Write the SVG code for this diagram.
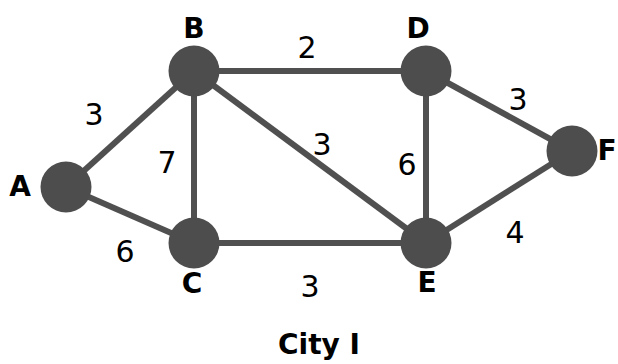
<svg xmlns="http://www.w3.org/2000/svg" width="618" height="364" viewBox="0 0 618 364">
  <style>
    .edge { stroke: #505050; stroke-width: 6; fill: none; }
    .node { fill: #4d4d4d; }
    .name { font-family: "DejaVu Sans", Verdana, sans-serif; font-weight: bold; font-size: 28px; fill: #000; text-anchor: middle; }
    .w { font-family: "DejaVu Sans", Verdana, sans-serif; font-size: 30px; fill: #000; text-anchor: middle; }
  </style>
  <rect width="618" height="364" fill="#ffffff"/>

  <!-- edges -->
  <g id="edges">
    <line class="edge" x1="66" y1="187" x2="194" y2="71"/>
    <line class="edge" x1="66" y1="187" x2="194" y2="243"/>
    <line class="edge" x1="194" y1="71" x2="194" y2="243"/>
    <line class="edge" x1="194" y1="71" x2="426" y2="71"/>
    <line class="edge" x1="194" y1="71" x2="426" y2="243"/>
    <line class="edge" x1="194" y1="243" x2="426" y2="243"/>
    <line class="edge" x1="426" y1="71" x2="426" y2="243"/>
    <line class="edge" x1="426" y1="71" x2="572" y2="151"/>
    <line class="edge" x1="426" y1="243" x2="572" y2="151"/>
  </g>

  <!-- edge weights -->
  <g id="weights">
    <text class="w" x="94" y="125">3</text>
    <text class="w" x="125" y="262">6</text>
    <text class="w" x="167" y="173">7</text>
    <text class="w" x="307" y="58">2</text>
    <text class="w" x="322" y="155">3</text>
    <text class="w" x="310" y="297">3</text>
    <text class="w" x="407" y="175">6</text>
    <text class="w" x="518" y="110">3</text>
    <text class="w" x="515" y="243">4</text>
  </g>

  <!-- nodes -->
  <g id="node-A">
    <circle class="node" cx="66" cy="187" r="25.5"/>
    <text class="name" x="20" y="196">A</text>
  </g>
  <g id="node-B">
    <circle class="node" cx="194" cy="71" r="25.5"/>
    <text class="name" x="194" y="38">B</text>
  </g>
  <g id="node-C">
    <circle class="node" cx="194" cy="243" r="25.5"/>
    <text class="name" x="192" y="293">C</text>
  </g>
  <g id="node-D">
    <circle class="node" cx="426" cy="71" r="25.5"/>
    <text class="name" x="418" y="38">D</text>
  </g>
  <g id="node-E">
    <circle class="node" cx="426" cy="243" r="25.5"/>
    <text class="name" x="427" y="292">E</text>
  </g>
  <g id="node-F">
    <circle class="node" cx="572" cy="151" r="25.5"/>
    <text class="name" x="607" y="160">F</text>
  </g>

  <text class="name" x="319" y="354">City I</text>
</svg>
